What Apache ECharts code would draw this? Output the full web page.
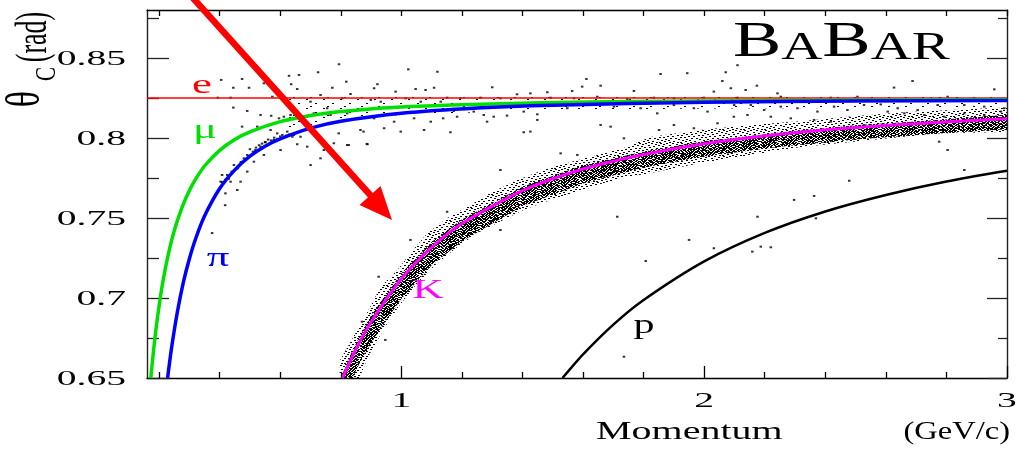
<!DOCTYPE html>
<html>
<head>
<meta charset="utf-8">
<script src="https://cdn.jsdelivr.net/npm/echarts@6/dist/echarts.min.js"></script>
<style>
  html, body { margin: 0; background: #fff; }
  #main { width: 1033px; height: 452px; }
</style>
</head>
<body>
<div id="main"></div>
<script>
// axis ticks and labels
const xMinorTicks = [0.2, 0.4, 0.6, 0.8, 1.2, 1.4, 1.6, 1.8, 2.2, 2.4, 2.6, 2.8];
const xMajorTicks = [1, 2, 3];
const xTickLabels = ['1', '2', '3'];
const yMajorTicks = [0.65, 0.7, 0.75, 0.8, 0.85];
const yMinorTicks = [0.675, 0.725, 0.775, 0.825, 0.875];
const yTickLabels = ['0.65', '0.7', '0.75', '0.8', '0.85'];

// expected Cherenkov angle curves [momentum, theta]
const electron = [[0.16, 0.825], [3.0, 0.825]];
const muon = [[0.1726, 0.65], [0.18, 0.6643], [0.19, 0.6811], [0.2, 0.6952], [0.21, 0.7075], [0.22, 0.7179],
  [0.235, 0.7312], [0.25, 0.742], [0.26, 0.7482], [0.28, 0.7587], [0.3, 0.7672], [0.32, 0.7741], [0.35, 0.7825],
  [0.4, 0.7923], [0.45, 0.7991], [0.5, 0.8039], [0.6, 0.8102], [0.7, 0.814], [0.8, 0.8165], [1.0, 0.8194],
  [1.5, 0.8222], [2.0, 0.8232], [3.0, 0.824]];
const pion = [[0.228, 0.65], [0.24, 0.6674], [0.26, 0.6909], [0.28, 0.7097], [0.3, 0.7245], [0.32, 0.7367],
  [0.35, 0.7512], [0.4, 0.7684], [0.45, 0.7801], [0.5, 0.7886], [0.55, 0.7949], [0.6, 0.7995], [0.7, 0.8062],
  [0.8, 0.8105], [1.0, 0.8155], [1.25, 0.8188], [1.5, 0.8205], [2.0, 0.8223], [2.5, 0.8231], [3.0, 0.8235]];
const kaon = [[0.806, 0.65], [0.85, 0.6681], [0.9, 0.685], [1.0, 0.712], [1.1, 0.7316], [1.2, 0.7465],
  [1.4, 0.7671], [1.6, 0.7806], [1.8, 0.7897], [2.0, 0.7964], [2.25, 0.8023], [2.5, 0.8065], [2.75, 0.8096],
  [3.0, 0.812]];
const proton = [[1.532, 0.65], [1.6, 0.6648], [1.7, 0.6834], [1.8, 0.6988], [2.0, 0.7229], [2.2, 0.7407],
  [2.4, 0.7541], [2.6, 0.7644], [2.8, 0.7728], [3.0, 0.7795]];

// kaon band envelope (outer) and dense core
const kBandUpper = [[0.795, 0.65], [0.798, 0.6613], [0.841, 0.6756], [0.888, 0.6913], [0.931, 0.7069],
  [0.987, 0.7175], [1.03, 0.7281], [1.086, 0.7406], [1.152, 0.75], [1.228, 0.7581], [1.294, 0.7656],
  [1.383, 0.7738], [1.469, 0.78], [1.559, 0.785], [1.648, 0.7894], [1.734, 0.7938], [1.823, 0.8006],
  [1.988, 0.805], [2.154, 0.8081], [2.319, 0.8105], [2.484, 0.8135], [2.65, 0.816], [2.815, 0.8175], [3.0, 0.819]];
const kBandLower = [[0.862, 0.65], [0.89, 0.6631], [0.94, 0.68], [0.99, 0.6944], [1.053, 0.7094],
  [1.119, 0.7219], [1.185, 0.7319], [1.251, 0.7406], [1.317, 0.7469], [1.403, 0.755], [1.493, 0.7613],
  [1.582, 0.7663], [1.668, 0.7719], [1.747, 0.7756], [1.823, 0.7781], [1.988, 0.7844], [2.154, 0.7894],
  [2.319, 0.7944], [2.484, 0.7975], [2.65, 0.8006], [2.815, 0.8031], [3.0, 0.8038]];
const kCoreUpper = [[0.8, 0.65], [0.84, 0.668], [0.9, 0.689], [1.0, 0.7155], [1.1, 0.735], [1.2, 0.749],
  [1.4, 0.7695], [1.6, 0.783], [1.8, 0.7915], [2.0, 0.798], [2.25, 0.8035], [2.5, 0.808], [2.75, 0.811], [3.0, 0.8145]];
const kCoreLower = [[0.838, 0.65], [0.875, 0.664], [0.935, 0.682], [1.0, 0.6995], [1.1, 0.7205], [1.2, 0.7355],
  [1.4, 0.7575], [1.6, 0.7715], [1.8, 0.7815], [2.0, 0.7885], [2.25, 0.7945], [2.5, 0.799], [2.75, 0.8025], [3.0, 0.8055]];

// thin spread of hits along the e / mu / pi lines
const lineBandUpper = [[0.62, 0.8265], [1.0, 0.8268], [2.0, 0.8268], [3.0, 0.8268]];
const lineBandLower = [[0.62, 0.8045], [0.8, 0.8105], [1.0, 0.8145], [1.5, 0.8175], [2.0, 0.8185], [3.0, 0.819]];

// individual hits [momentum, theta]
const hits = [
  [0.794, 0.8461], [0.725, 0.8411], [1.023, 0.8429], [1.119, 0.8414], [0.405, 0.8363], [0.474, 0.8369],
  [0.497, 0.8314], [0.445, 0.8314], [0.546, 0.8342], [0.629, 0.8389], [0.662, 0.8394], [0.636, 0.8336],
  [0.656, 0.8306], [0.733, 0.8269], [0.772, 0.8314], [0.818, 0.8352], [0.832, 0.8275], [0.921, 0.8336],
  [0.91, 0.8311], [0.981, 0.829], [1.047, 0.8306], [1.08, 0.83], [1.108, 0.8314], [0.394, 0.8252],
  [0.436, 0.8252], [0.574, 0.8258], [0.7, 0.8227], [0.755, 0.8186], [0.805, 0.8248], [0.899, 0.8238],
  [0.932, 0.8227], [1.014, 0.8248], [1.064, 0.8227], [1.13, 0.8227], [0.445, 0.819], [0.491, 0.8169],
  [0.535, 0.8144], [0.57, 0.8139], [0.596, 0.8123], [0.612, 0.8133], [0.634, 0.8144], [0.711, 0.8154],
  [0.766, 0.8144], [0.821, 0.8154], [0.865, 0.8123], [0.91, 0.8123], [0.976, 0.8102], [1.042, 0.8123],
  [1.097, 0.8102], [0.474, 0.8071], [0.524, 0.8071], [0.568, 0.805], [0.59, 0.8029], [0.607, 0.8019],
  [0.623, 0.804], [0.645, 0.8019], [0.667, 0.8008], [0.579, 0.7988], [0.551, 0.7973], [0.535, 0.7946],
  [0.518, 0.7925], [0.491, 0.7894], [0.48, 0.7873], [0.513, 0.7852], [0.546, 0.7894], [0.601, 0.7925],
  [0.656, 0.7961], [0.689, 0.7946], [0.744, 0.7925], [0.777, 0.7967], [0.821, 0.7956], [0.888, 0.7961],
  [0.447, 0.7831], [0.425, 0.7769], [0.408, 0.7769], [0.403, 0.7727], [0.436, 0.7727], [0.491, 0.779],
  [0.469, 0.7727], [0.458, 0.7675], [0.419, 0.7654], [0.7, 0.7831], [0.733, 0.7873], [0.943, 0.8061],
  [0.865, 0.805], [0.998, 0.804], [1.075, 0.805],
  [0.57, 0.7985], [0.58, 0.8002], [0.59, 0.7995], [0.6, 0.801], [0.61, 0.8], [0.62, 0.8015], [0.55, 0.7975],
  [0.56, 0.799], [0.63, 0.8022], [0.64, 0.8008], [0.53, 0.7955], [0.54, 0.7965], [0.5, 0.793], [0.51, 0.7915],
  [0.52, 0.794], [0.47, 0.785], [0.46, 0.781], [0.44, 0.779], [0.43, 0.7745], [0.42, 0.774], [0.375, 0.7406],
  [0.418, 0.758], [0.408, 0.7725],
  [1.3, 0.8317], [1.611, 0.8369], [1.658, 0.8327], [1.856, 0.84], [1.944, 0.8405], [2.071, 0.8411],
  [2.06, 0.8356], [2.088, 0.8311], [2.032, 0.829], [2.11, 0.8455], [1.482, 0.8286], [1.564, 0.8294],
  [1.597, 0.8321], [1.382, 0.8273], [1.426, 0.8279], [1.768, 0.8294], [1.151, 0.8252], [1.195, 0.8248],
  [1.261, 0.8252], [1.327, 0.8248], [1.493, 0.8252], [1.57, 0.8248], [1.647, 0.8258], [1.746, 0.8244],
  [1.834, 0.8252], [1.9, 0.8248], [1.999, 0.8252], [1.173, 0.8169], [1.239, 0.8165], [1.272, 0.8144],
  [1.305, 0.8133], [1.349, 0.814], [1.404, 0.8165], [1.449, 0.8148], [1.548, 0.8186], [1.614, 0.8206],
  [1.702, 0.8196], [1.79, 0.8186], [1.845, 0.8154], [1.9, 0.8206], [1.966, 0.8186], [2.011, 0.8165],
  [2.098, 0.8133], [1.162, 0.8036], [1.283, 0.8102], [1.404, 0.8036], [1.449, 0.8113], [1.658, 0.8081],
  [1.691, 0.8071], [1.735, 0.7998], [1.851, 0.805], [1.9, 0.8081], [1.966, 0.8061], [2.044, 0.8092],
  [1.138, 0.8123], [1.184, 0.8133],
  [2.137, 0.83], [2.174, 0.8327], [2.242, 0.8279], [2.253, 0.8258], [2.627, 0.8315], [2.688, 0.8356],
  [2.958, 0.8304], [2.804, 0.8258], [2.749, 0.8248], [2.506, 0.8258], [2.418, 0.8252], [2.11, 0.8252],
  [2.099, 0.8206], [2.154, 0.8206], [2.198, 0.8175], [2.253, 0.8196], [2.308, 0.8186], [2.374, 0.8165],
  [2.429, 0.8196], [2.473, 0.8175], [2.528, 0.8206], [2.583, 0.821], [2.639, 0.8186], [2.705, 0.8175],
  [2.771, 0.8206], [2.859, 0.8206], [2.925, 0.8196], [2.991, 0.8186], [2.143, 0.8144], [2.22, 0.8133],
  [2.286, 0.8123], [2.363, 0.8113], [2.418, 0.8102], [2.528, 0.8081], [2.606, 0.8165], [2.661, 0.8154],
  [2.727, 0.8144], [2.793, 0.8133], [2.859, 0.8154], [2.925, 0.8144], [2.98, 0.8165],
  [0.826, 0.7956], [0.886, 0.7963], [0.793, 0.8029], [0.875, 0.804], [1.426, 0.804], [1.151, 0.7539],
  [0.925, 0.7133], [0.947, 0.6738], [0.87, 0.6852], [1.03, 0.7363], [1.526, 0.7904], [1.581, 0.7894],
  [1.669, 0.7758], [1.713, 0.7508], [1.327, 0.78], [1.426, 0.7675], [1.735, 0.6633], [1.327, 0.7425],
  [2.859, 0.78], [2.804, 0.7925], [2.479, 0.7733], [2.297, 0.7613], [2.363, 0.7638], [2.176, 0.7508],
  [1.95, 0.7363], [2.032, 0.7311], [2.159, 0.729], [2.187, 0.7321], [2.22, 0.7317], [1.807, 0.7231],
  [2.369, 0.7498], [2.776, 0.7977]
];

const serif = '"Liberation Serif", "DejaVu Serif", serif';
const xMin = 0.16, xMax = 3.0, yMin = 0.65, yMax = 0.88;

// small dot textures for the dense hit bands
function dotTile(w, h, rows) {
  const c = document.createElement('canvas');
  c.width = w; c.height = h;
  const g = c.getContext('2d');
  g.fillStyle = '#000';
  rows.forEach((xs, y) => xs.forEach(x => g.fillRect(x, y, 2, 1)));
  return c;
}
const denseTile = dotTile(20, 12, [
  [0, 3, 6, 9, 13, 16], [1, 5, 8, 11, 14, 18], [2, 4, 7, 10, 15, 17], [0, 3, 6, 12, 14, 18],
  [1, 5, 8, 10, 13, 16], [2, 4, 9, 11, 15, 18], [0, 3, 7, 10, 13, 17], [1, 5, 8, 12, 15, 18],
  [2, 6, 9, 11, 14, 16], [0, 4, 7, 10, 13, 18], [1, 3, 6, 9, 12, 15], [2, 5, 8, 11, 14, 17]]);
const mediumTile = dotTile(21, 13, [
  [0, 9, 15], [4, 12], [7, 18], [2, 11], [14, 19], [5, 9], [0, 16], [8, 12], [3, 19], [6, 14], [10, 17], [1, 13], [5, 8, 18]]);
const sparseTile = dotTile(17, 9, [[0], [], [], [], [9], [], [], [4], []]);

function band(upper, lower, tile) {
  return {
    type: 'custom', silent: true, clip: true, z: 1,
    data: [[1, 0.7]],
    renderItem: (params, api) => {
      const pts = upper.concat(lower.slice().reverse()).map(d => api.coord(d));
      return { type: 'polygon', shape: { points: pts }, style: { fill: { image: tile, repeat: 'repeat' } } };
    }
  };
}

function xAx(pos, ticks, len, showLine) {
  return {
    type: 'value', min: xMin, max: xMax, position: pos,
    axisLine: { show: showLine, onZero: false, lineStyle: { color: '#000', width: 1.4 } },
    axisTick: { show: true, inside: true, length: len, customValues: ticks, lineStyle: { color: '#000', width: 1.3 } },
    axisLabel: { show: false }, splitLine: { show: false }
  };
}
function yAx(pos, ticks, len, showLine) {
  return {
    type: 'value', min: yMin, max: yMax, position: pos,
    axisLine: { show: showLine, onZero: false, lineStyle: { color: '#222', width: 1.4 } },
    axisTick: { show: true, inside: true, length: len, customValues: ticks, lineStyle: { color: '#222', width: 1.3 } },
    axisLabel: { show: false }, splitLine: { show: false }
  };
}

function curve(data, color, width) {
  return {
    type: 'line', data: data, showSymbol: false, smooth: 0.25, clip: true, z: 3,
    lineStyle: { color: color, width: width }, silent: true
  };
}

const chart = echarts.init(document.getElementById('main'));
chart.setOption({
  animation: false,
  grid: { left: 147, right: 26, top: 10, bottom: 74 },
  xAxis: [
    xAx('bottom', xMinorTicks, 6, true),
    xAx('bottom', xMajorTicks, 12, false),
    xAx('top', xMinorTicks.concat(xMajorTicks), 6, true)
  ],
  yAxis: [
    yAx('left', yMajorTicks, 22, true),
    yAx('left', yMinorTicks, 12, false),
    yAx('right', yMajorTicks, 20, true),
    yAx('right', yMinorTicks, 9, false)
  ],
  series: [
    band(lineBandUpper, lineBandLower, sparseTile),
    band(kBandUpper, kBandLower, mediumTile),
    band(kCoreUpper, kCoreLower, denseTile),
    {
      type: 'scatter', data: hits, symbol: 'rect', symbolSize: [2.5, 2], z: 2, silent: true,
      itemStyle: { color: '#000' }
    },
    curve(electron, '#ff0000', 1.5),
    curve(proton, '#000000', 2.5),
    curve(kaon, '#ff00ff', 3),
    curve(muon, '#00e000', 3.5),
    curve(pion, '#0000ff', 3.5)
  ]
});

// tick labels, titles and annotations
const gfx = [];
const toPx = v => chart.convertToPixel({ xAxisIndex: 0, yAxisIndex: 0 }, v);
yMajorTicks.forEach((v, i) => {
  const p = toPx([xMin, v]);
  gfx.push({ type: 'text', x: 126, y: p[1] + 1, scaleX: 1.8,
    style: { text: yTickLabels[i], fontFamily: serif, fontSize: 22, fill: '#000', align: 'right', verticalAlign: 'middle' } });
});
xMajorTicks.forEach((v, i) => {
  const p = toPx([v, yMin]);
  gfx.push({ type: 'text', x: p[0], y: 401, scaleX: 1.8,
    style: { text: xTickLabels[i], fontFamily: serif, fontSize: 22, fill: '#000', align: 'center', verticalAlign: 'middle' } });
});
const txt = (s, x, y, size, color, sx, align) => ({
  type: 'text', x: x, y: y, scaleX: sx, z: 10,
  style: { text: s, fontFamily: serif, fontSize: size, fill: color, align: align || 'center', verticalAlign: 'middle' }
});
gfx.push(
  txt('Momentum', 596, 432, 25, '#000', 1.6, 'left'),
  txt('(GeV/c)', 1010, 432, 25, '#000', 1.3, 'right'),
  { type: 'text', x: 27, y: 99, rotation: Math.PI / 2, scaleY: 1.4,
    style: { text: 'θ', fontFamily: serif, fontSize: 34, fill: '#000', align: 'center', verticalAlign: 'middle' } },
  { type: 'text', x: 47, y: 74, rotation: Math.PI / 2, scaleY: 1.4,
    style: { text: 'C', fontFamily: serif, fontSize: 21, fill: '#000', align: 'center', verticalAlign: 'middle' } },
  { type: 'text', x: 34, y: 37, rotation: Math.PI / 2, scaleY: 1.7,
    style: { text: '(rad)', fontFamily: serif, fontSize: 26, fill: '#000', align: 'center', verticalAlign: 'middle' } },
  txt('e', 202, 86, 28, '#ff0000', 1.6),
  txt('μ', 205, 131, 28, '#00e000', 1.6),
  txt('π', 218, 259, 28, '#0000ff', 1.6),
  txt('K', 428, 291, 27, '#ff00ff', 1.6),
  txt('p', 644, 326, 28, '#000', 1.5),
  { type: 'text', x: 733, y: 68, scaleX: 1.42, z: 10,
    style: {
      text: '{b|B}{s|A}{b|B}{s|AR}', align: 'left', verticalAlign: 'bottom',
      rich: {
        b: { fontFamily: serif, fontSize: 51, lineHeight: 51, verticalAlign: 'bottom', fill: '#000' },
        s: { fontFamily: serif, fontSize: 40, lineHeight: 40, verticalAlign: 'bottom', fill: '#000' }
      }
    } },
  { type: 'line', z: 20, shape: { x1: 193, y1: -2, x2: 372, y2: 197 }, style: { stroke: '#ff0000', lineWidth: 6.5 } },
  { type: 'polygon', z: 20, shape: { points: [[392, 220], [359.5, 205], [380.5, 186]] }, style: { fill: '#ff0000' } }
);
chart.setOption({ graphic: gfx });
</script>
</body>
</html>
